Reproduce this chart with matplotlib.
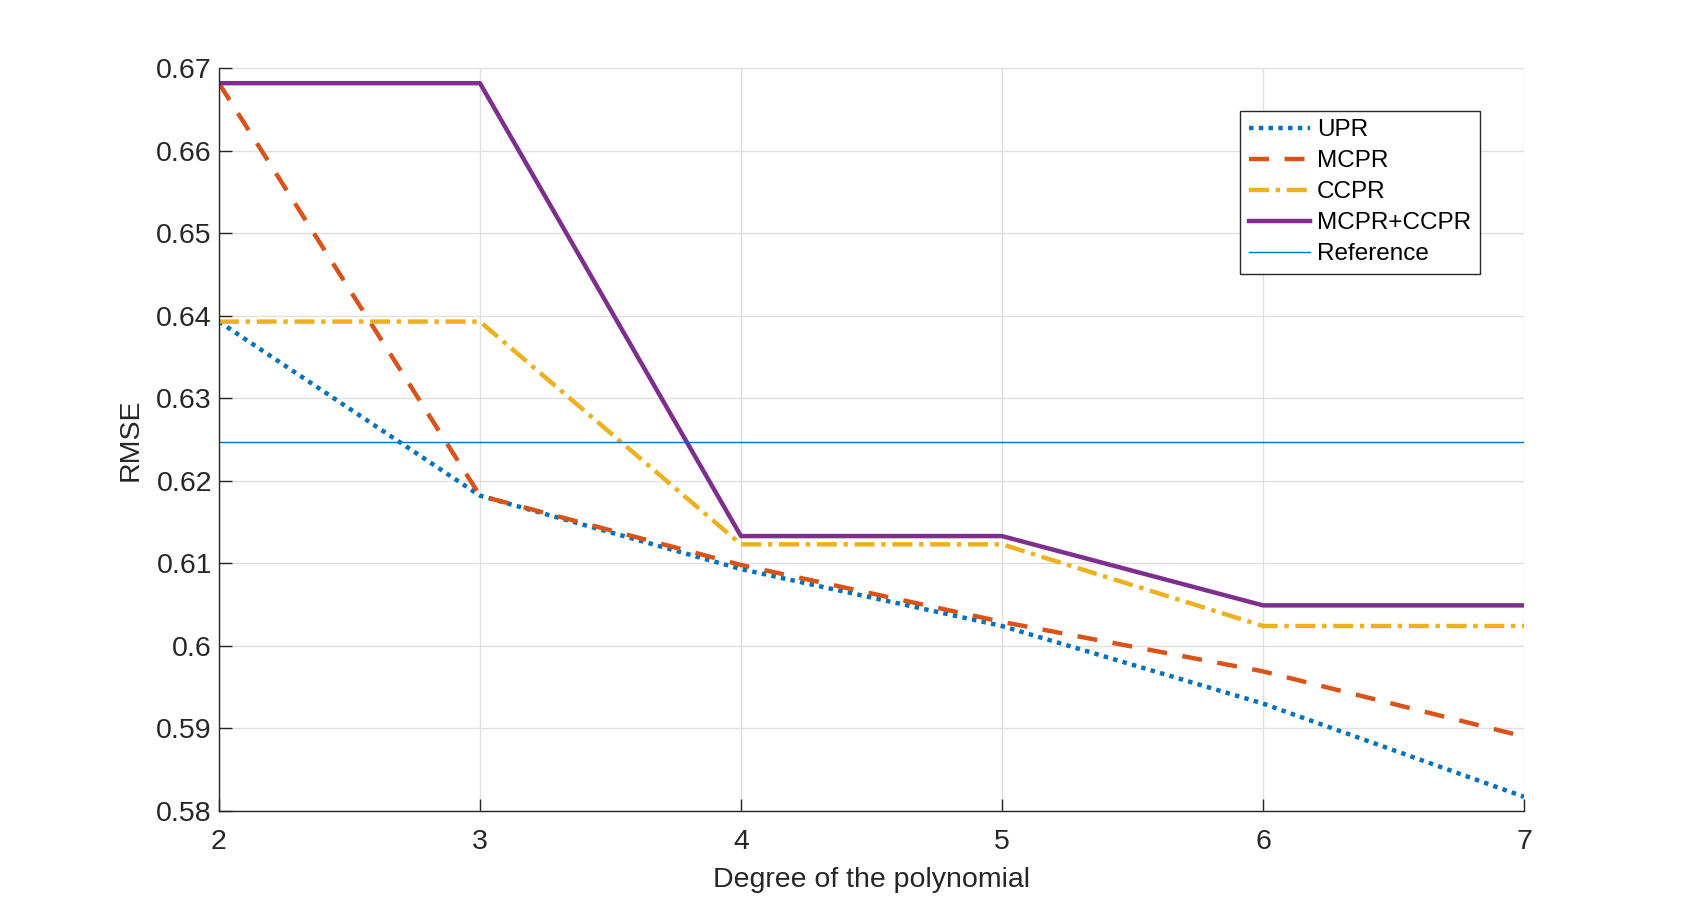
import matplotlib
matplotlib.use("Agg")
import matplotlib.pyplot as plt
import numpy as np

plt.rcParams['font.family'] = ['Liberation Sans', 'DejaVu Sans']

# polynomial degree on the x axis
degree = [2, 3, 4, 5, 6, 7]

# RMSE
upr = [0.6393, 0.6182, 0.6093, 0.6024, 0.5930, 0.5817]
mcpr = [0.6682, 0.6182, 0.6098, 0.6029, 0.5969, 0.5890]
ccpr = [0.6393, 0.6393, 0.6123, 0.6123, 0.6024, 0.6024]
mcpr_ccpr = [0.6682, 0.6682, 0.6133, 0.6133, 0.6049, 0.6049]
reference_rmse = 0.6247

series_names = ['UPR', 'MCPR', 'CCPR', 'MCPR+CCPR', 'Reference']

fig = plt.figure(figsize=(16.84, 9.11), dpi=100)
# MATLAB default axes position
ax = fig.add_axes([0.13, 0.11, 0.775, 0.815])

ax.plot(degree, upr, color='#0072BD', linestyle=(0, (1, 1.2)), linewidth=3.2, label=series_names[0])
ax.plot(degree, mcpr, color='#D95319', linestyle=(0, (4.5, 3.5)), linewidth=3.2, label=series_names[1])
ax.plot(degree, ccpr, color='#EDB120', linestyle=(0, (4.5, 1.5, 1, 1.5)), linewidth=3.2, label=series_names[2])
ax.plot(degree, mcpr_ccpr, color='#7E2F8E', linestyle='-', linewidth=3.2, label=series_names[3])
ax.plot([degree[0], degree[-1]], [reference_rmse, reference_rmse], color='#0072BD', linewidth=1.0,
        label=series_names[4])

ax.set_xlim(2, 7)
ax.set_ylim(0.58, 0.67)
ax.set_xticks(degree)
ax.set_yticks(np.arange(0.58, 0.6701, 0.01))
ax.set_yticklabels(['0.58', '0.59', '0.6', '0.61', '0.62', '0.63', '0.64', '0.65', '0.66', '0.67'])

# light grid like MATLAB's grid on
ax.grid(True, color='#e0e0e0', linewidth=1.0)
ax.set_axisbelow(True)

for side in ['top', 'right']:
    ax.spines[side].set_visible(False)
for side in ['left', 'bottom']:
    ax.spines[side].set_color('#262626')
    ax.spines[side].set_linewidth(1.0)

ax.tick_params(direction='in', length=9, width=1.0, colors='#262626', labelsize=20.5)
ax.tick_params(axis='x', pad=13)
ax.tick_params(axis='y', pad=5)

ax.set_xlabel('Degree of the polynomial', fontsize=20.5, color='#262626', labelpad=9)
ax.set_ylabel('RMSE', fontsize=20.5, color='#262626', labelpad=9)

leg = ax.legend(loc='upper right', bbox_to_anchor=(0.966, 0.943), fontsize=17.5, frameon=True,
                fancybox=False, edgecolor='#262626', framealpha=1, handlelength=2.5,
                handletextpad=0.3, borderpad=0.35, labelspacing=0.37, borderaxespad=0)
leg.get_frame().set_linewidth(1.0)

fig.savefig('out.png', dpi=100, facecolor='white')
